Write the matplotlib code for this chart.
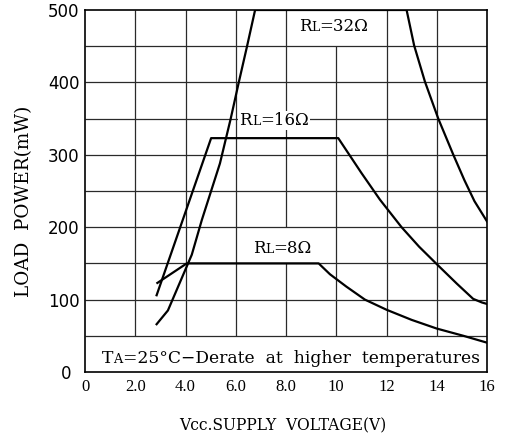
import matplotlib
matplotlib.use("Agg")
import matplotlib.pyplot as plt
from matplotlib.transforms import offset_copy, Bbox
from matplotlib.patches import Rectangle

# ---------------- data ----------------
v32 = [2.85, 3.3, 4.25, 4.65, 5.37, 5.8, 6.12, 6.45, 6.77, 12.8, 13.1, 13.53, 14.06, 14.66, 15.1, 15.5, 16.0]
p32 = [66, 85, 162, 210, 288, 350, 400, 450, 500, 500, 451, 401, 350, 300, 265, 236, 208]

v16 = [2.85, 5.02, 10.08, 11.0, 11.74, 12.6, 13.3, 14.0, 14.8, 15.45, 15.8, 16.0]
p16 = [106, 323, 323, 275, 238, 200, 173, 149, 122, 101, 96, 94]

v8 = [2.88, 4.05, 9.3, 9.75, 10.4, 11.14, 12.0, 13.0, 14.0, 15.06, 16.0]
p8 = [123, 150, 150, 135, 118, 100, 86, 72, 60, 50, 40.5]

xticks = [0, 2, 4, 6, 8, 10, 12, 14, 16]
xticklabels = ["0", "2.0", "4.0", "6.0", "8.0", "10", "12", "14", "16"]
yticks = [0, 100, 200, 300, 400, 500]
yticklabels = ["0", "100", "200", "300", "400", "500"]

series_labels = ["32Ω", "16Ω", "8Ω"]
note = "=25°C−Derate  at  higher  temperatures"
xlabel = "Vcc.SUPPLY  VOLTAGE(V)"
ylabel = "LOAD  POWER(mW)"

# ---------------- figure ----------------
W, H = 509, 441
fig = plt.figure(figsize=(W / 100, H / 100), dpi=100)
ax = fig.add_axes([85 / W, 1 - 372 / H, 402 / W, 362 / H])
ax.set_xlim(0, 16)
ax.set_ylim(0, 500)

gc = "#2a2a2a"
glw = 0.9
# horizontal grid lines
for y in range(50, 500, 50):
    ax.hlines(y, 0, 16, color=gc, lw=glw, zorder=1)
# vertical grid lines (the bottom band 0-50 is kept clear for the note)
for x in [2, 4, 6, 12, 14]:
    ax.vlines(x, 50, 500, color=gc, lw=glw, zorder=1)
ax.vlines(8, 50, 150, color=gc, lw=glw, zorder=1)
ax.vlines(8, 200, 500, color=gc, lw=glw, zorder=1)
ax.vlines(10, 50, 450, color=gc, lw=glw, zorder=1)

clw = 1.6
ax.plot(v32, p32, color="black", lw=clw, zorder=3, solid_joinstyle="round")
ax.plot(v16, p16, color="black", lw=clw, zorder=3, solid_joinstyle="round")
ax.plot(v8, p8, color="black", lw=clw, zorder=3, solid_joinstyle="round")

for s in ax.spines.values():
    s.set_linewidth(1.2)
    s.set_color("black")
    s.set_zorder(4)

ax.set_xticks(xticks)
ax.set_xticklabels(xticklabels, family="Liberation Serif", fontsize=12)
ax.set_yticks(yticks)
ax.set_yticklabels(yticklabels, family="DejaVu Sans", fontsize=12)
ax.tick_params(axis="x", length=0, pad=5)
ax.tick_params(axis="y", length=0, pad=4)
ax.yaxis.get_major_ticks()[0].set_pad(10)

ax.set_xlabel(xlabel, family="DejaVu Serif", fontsize=11.2)
ax.xaxis.label.set_va("center")
ax.xaxis.set_label_coords((283 - 85) / 402, (372 - 426) / 362)
ax.set_ylabel(ylabel, family="DejaVu Serif", fontsize=13.2)
ax.yaxis.label.set_va("center")
ax.yaxis.set_label_coords((24 - 85) / 402, (372 - 201) / 362)

renderer = fig.canvas.get_renderer()


def rich_text(x, y, parts, family="DejaVu Serif", bg=False):
    objs, widths = [], []
    for s, fs in parts:
        t = ax.text(x, y, s, fontsize=fs, family=family, ha="left",
                    va="baseline", zorder=5)
        widths.append(t.get_window_extent(renderer).width)
        objs.append(t)
    start = -sum(widths) / 2
    for t, w in zip(objs, widths):
        t.set_transform(offset_copy(ax.transData, fig=fig, x=start, y=0, units="dots"))
        start += w
    if bg:
        bb = Bbox.union([t.get_window_extent(renderer) for t in objs])
        bb = bb.expanded(1.0, 1.0).padded(1)
        (x0, y0), (x1, y1) = ax.transData.inverted().transform([[bb.x0, bb.y0], [bb.x1, bb.y1]])
        ax.add_patch(Rectangle((x0, y0), x1 - x0, y1 - y0, facecolor="white",
                               edgecolor="none", zorder=2))


fs_lab = 12
rich_text(9.9, 471, [("R", fs_lab), ("L", fs_lab * 0.75), ("=" + series_labels[0], fs_lab)])
rich_text(7.53, 341, [("R", fs_lab), ("L", fs_lab * 0.75), ("=" + series_labels[1], fs_lab)], bg=True)
rich_text(7.86, 164, [("R", fs_lab), ("L", fs_lab * 0.75), ("=" + series_labels[2], fs_lab)])
rich_text(8.19, 12, [("T", 12.3), ("A", 9.2), (note, 12.3)])

fig.savefig("out.png", dpi=100)
